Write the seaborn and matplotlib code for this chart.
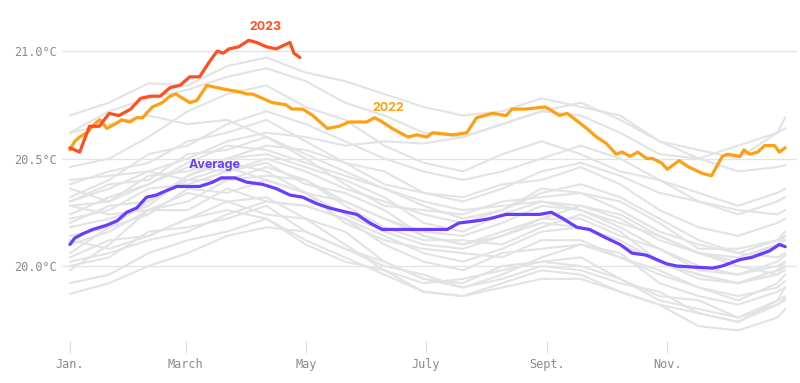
import pandas as pd
import seaborn as sns
import matplotlib.pyplot as plt

# Day-of-year positions shared by all the grey background years
gray_days = [0, 20, 40, 60, 80, 100, 120, 140, 160, 180, 200, 220, 240, 260, 280, 300, 320, 340, 360, 364]

# Grey background years (temperature, °C)
gray_lines = [
    [20.70, 20.76, 20.85, 20.84, 20.93, 20.97, 20.90, 20.86, 20.80, 20.74, 20.70, 20.72, 20.78, 20.74, 20.70, 20.58, 20.50, 20.44, 20.46, 20.47],
    [20.62, 20.72, 20.78, 20.82, 20.88, 20.92, 20.86, 20.76, 20.70, 20.62, 20.60, 20.66, 20.72, 20.76, 20.68, 20.58, 20.54, 20.50, 20.62, 20.69],
    [20.30, 20.36, 20.44, 20.50, 20.58, 20.62, 20.60, 20.56, 20.58, 20.57, 20.60, 20.66, 20.72, 20.70, 20.62, 20.52, 20.50, 20.56, 20.62, 20.64],
    [20.46, 20.50, 20.60, 20.72, 20.80, 20.84, 20.74, 20.68, 20.56, 20.48, 20.44, 20.52, 20.58, 20.52, 20.44, 20.40, 20.34, 20.28, 20.34, 20.36],
    [20.62, 20.66, 20.70, 20.66, 20.68, 20.60, 20.52, 20.44, 20.36, 20.30, 20.26, 20.28, 20.30, 20.26, 20.18, 20.08, 20.00, 19.96, 20.00, 20.02],
    [20.38, 20.44, 20.48, 20.58, 20.62, 20.68, 20.58, 20.48, 20.38, 20.34, 20.32, 20.38, 20.40, 20.46, 20.38, 20.26, 20.18, 20.14, 20.20, 20.22],
    [20.06, 20.18, 20.30, 20.42, 20.50, 20.56, 20.54, 20.48, 20.44, 20.34, 20.30, 20.36, 20.44, 20.48, 20.42, 20.34, 20.30, 20.24, 20.30, 20.32],
    [20.30, 20.38, 20.40, 20.52, 20.54, 20.60, 20.50, 20.38, 20.28, 20.26, 20.24, 20.30, 20.32, 20.34, 20.30, 20.20, 20.08, 20.08, 20.12, 20.14],
    [20.28, 20.30, 20.42, 20.44, 20.50, 20.52, 20.46, 20.40, 20.32, 20.20, 20.16, 20.24, 20.30, 20.28, 20.22, 20.12, 20.06, 20.04, 20.10, 20.12],
    [20.40, 20.42, 20.44, 20.40, 20.46, 20.40, 20.34, 20.24, 20.16, 20.10, 20.08, 20.14, 20.20, 20.18, 20.10, 20.02, 19.94, 19.92, 19.96, 20.00],
    [20.22, 20.26, 20.36, 20.38, 20.44, 20.48, 20.38, 20.34, 20.26, 20.14, 20.10, 20.16, 20.22, 20.22, 20.14, 20.08, 19.98, 19.96, 20.02, 20.05],
    [20.20, 20.28, 20.30, 20.40, 20.40, 20.42, 20.40, 20.28, 20.18, 20.12, 20.12, 20.10, 20.18, 20.24, 20.16, 20.02, 19.96, 19.92, 19.98, 20.00],
    [19.98, 20.10, 20.26, 20.30, 20.40, 20.46, 20.40, 20.30, 20.22, 20.14, 20.10, 20.14, 20.22, 20.28, 20.24, 20.14, 20.06, 20.02, 20.10, 20.14],
    [20.14, 20.18, 20.24, 20.36, 20.34, 20.40, 20.34, 20.20, 20.12, 20.08, 20.06, 20.04, 20.12, 20.12, 20.04, 19.98, 19.90, 19.86, 19.90, 19.93],
    [20.10, 20.16, 20.26, 20.26, 20.36, 20.30, 20.28, 20.22, 20.10, 20.02, 19.98, 20.06, 20.08, 20.10, 20.06, 19.92, 19.86, 19.82, 19.88, 19.90],
    [20.28, 20.24, 20.26, 20.34, 20.30, 20.32, 20.22, 20.10, 19.98, 19.92, 19.94, 19.98, 20.02, 20.00, 19.94, 19.84, 19.80, 19.76, 19.82, 19.85],
    [20.04, 20.12, 20.14, 20.22, 20.30, 20.24, 20.22, 20.16, 20.02, 19.94, 19.92, 20.00, 20.02, 20.04, 19.94, 19.86, 19.84, 19.76, 19.84, 19.86],
    [20.00, 20.04, 20.16, 20.18, 20.22, 20.28, 20.16, 20.08, 20.00, 19.96, 19.90, 19.94, 20.00, 19.98, 19.92, 19.88, 19.78, 19.74, 19.82, 19.84],
    [20.12, 20.08, 20.14, 20.22, 20.26, 20.22, 20.12, 20.04, 19.96, 19.88, 19.86, 19.92, 19.98, 19.96, 19.88, 19.82, 19.78, 19.74, 19.84, 19.90],
    [19.92, 19.96, 20.06, 20.12, 20.16, 20.22, 20.10, 20.02, 19.98, 19.88, 19.86, 19.90, 19.94, 19.94, 19.88, 19.82, 19.72, 19.70, 19.76, 19.80],
    [19.87, 19.92, 20.00, 20.06, 20.14, 20.18, 20.16, 20.08, 20.02, 19.94, 19.90, 19.96, 20.04, 20.10, 20.04, 19.96, 19.90, 19.84, 19.92, 19.96],
    [20.32, 20.40, 20.52, 20.56, 20.66, 20.72, 20.66, 20.58, 20.50, 20.44, 20.40, 20.44, 20.50, 20.56, 20.50, 20.40, 20.30, 20.26, 20.24, 20.26],
    [20.24, 20.32, 20.38, 20.48, 20.56, 20.54, 20.48, 20.42, 20.36, 20.28, 20.22, 20.26, 20.34, 20.38, 20.32, 20.22, 20.12, 20.06, 20.04, 20.06],
    [20.18, 20.22, 20.28, 20.42, 20.48, 20.44, 20.34, 20.30, 20.22, 20.16, 20.14, 20.20, 20.28, 20.26, 20.20, 20.14, 20.06, 20.00, 19.96, 19.98],
    [20.36, 20.30, 20.38, 20.46, 20.44, 20.50, 20.44, 20.36, 20.30, 20.24, 20.20, 20.26, 20.36, 20.34, 20.26, 20.16, 20.10, 20.06, 20.12, 20.16],
    [20.02, 20.06, 20.12, 20.16, 20.24, 20.30, 20.28, 20.22, 20.14, 20.06, 20.02, 20.08, 20.16, 20.18, 20.12, 20.02, 19.96, 19.92, 19.98, 20.02],
]

# 2023 (partial year)
days_2023 = [0, 5, 10, 15, 20, 25, 31, 36, 41, 46, 51, 56, 61, 66, 71, 75, 78, 81, 86, 91, 95, 100, 105, 112, 114, 117]
temps_2023 = [20.55, 20.53, 20.65, 20.65, 20.71, 20.70, 20.73, 20.78, 20.79, 20.79, 20.83, 20.84, 20.88,
              20.88, 20.95, 21.00, 20.99, 21.01, 21.02, 21.05, 21.04, 21.02, 21.01, 21.04, 20.99, 20.97]

# 2022
days_2022 = [0, 2.5, 5, 8.6, 13.7, 15.3, 18.8, 22.9, 26.4, 30.5, 34, 37, 42, 47, 51, 54, 57.5, 61, 64.6,
             69.7, 74.8, 80, 86.5, 90, 93, 98, 103, 110, 113, 118.5, 123.6, 131, 137, 142, 151, 155, 159,
             164, 172, 176.5, 181.6, 184.6, 195, 202, 207, 215, 222, 225, 232, 241.6, 244, 249, 253, 256,
             263, 268, 273, 278, 281, 285, 289, 293.5, 296.5, 301, 304, 310, 315, 322, 326.5, 332, 334.7,
             341, 343, 346, 350, 353.5, 358.6, 361, 364]
temps_2022 = [20.54, 20.58, 20.60, 20.62, 20.67, 20.68, 20.64, 20.66, 20.68, 20.67, 20.69, 20.69, 20.74,
              20.76, 20.79, 20.80, 20.78, 20.76, 20.77, 20.84, 20.83, 20.82, 20.81, 20.80, 20.80, 20.78,
              20.76, 20.75, 20.73, 20.73, 20.70, 20.64, 20.65, 20.67, 20.67, 20.69, 20.67, 20.64, 20.60,
              20.61, 20.60, 20.62, 20.61, 20.62, 20.69, 20.71, 20.70, 20.73, 20.73, 20.74, 20.73, 20.70,
              20.71, 20.69, 20.64, 20.60, 20.57, 20.52, 20.53, 20.51, 20.53, 20.50, 20.50, 20.48, 20.45,
              20.49, 20.46, 20.43, 20.42, 20.51, 20.52, 20.51, 20.54, 20.52, 20.53, 20.56, 20.56, 20.53, 20.55]

# Long-term average
days_avg = [0, 2.5, 6.6, 11.7, 18.8, 24, 29, 34, 39, 44, 49, 54.4, 66, 72.7, 77, 84, 90, 98, 105, 112,
            118.5, 125.6, 132, 141, 146, 152.6, 159, 192, 198, 207, 213.6, 222, 239, 245, 251, 258, 264.5,
            273, 280, 286, 293.5, 303.7, 308.7, 317, 327, 332, 341, 347, 356, 361, 364]
temps_avg = [20.10, 20.13, 20.15, 20.17, 20.19, 20.21, 20.25, 20.27, 20.32, 20.33, 20.35, 20.37, 20.37,
             20.39, 20.41, 20.41, 20.39, 20.38, 20.36, 20.33, 20.32, 20.29, 20.27, 20.25, 20.24, 20.20,
             20.17, 20.17, 20.20, 20.21, 20.22, 20.24, 20.24, 20.25, 20.22, 20.18, 20.17, 20.13, 20.10,
             20.06, 20.05, 20.01, 20.00, 19.995, 19.99, 20.00, 20.03, 20.04, 20.07, 20.10, 20.09]

month_ticks = [0, 59, 120, 181, 243, 304]
month_labels = ["Jan.", "March", "May", "July", "Sept.", "Nov."]
temp_ticks = [20.0, 20.5, 21.0]
temp_labels = ["20.0°C", "20.5°C", "21.0°C"]

GRAY = "#e2e3e5"
RED = "#ff4f1f"
ORANGE = "#ffa012"
PURPLE = "#6a3cff"
TICK_GRAY = "#8a8a8a"

sns.set_theme(style="white")
plt.rcParams["font.family"] = ["DejaVu Sans"]

# Long form table of grey years
gray_df = pd.DataFrame(
    [(i, d, t) for i, line in enumerate(gray_lines) for d, t in zip(gray_days, line)],
    columns=["year", "day", "temp"],
)

fig = plt.figure(figsize=(8, 3.83), dpi=100)
ax = fig.add_axes([62 / 800, 1 - 341 / 383, (797 - 62) / 800, (341 - 10) / 383])

# Background years
sns.lineplot(data=gray_df, x="day", y="temp", units="year", estimator=None,
             color=GRAY, linewidth=1.5, ax=ax, legend=False, sort=False)

# Highlighted series
sns.lineplot(x=days_avg, y=temps_avg, color=PURPLE, linewidth=2.3, ax=ax, sort=False)
sns.lineplot(x=days_2022, y=temps_2022, color=ORANGE, linewidth=2.3, ax=ax, sort=False)
sns.lineplot(x=days_2023, y=temps_2023, color=RED, linewidth=2.3, ax=ax, sort=False)

label_font = dict(family=["Inter", "DejaVu Sans"], fontsize=9, fontweight="bold", ha="center", va="center")
ax.text(99.7, 21.112, "2023", color=RED, **label_font)
ax.text(162, 20.735, "2022", color=ORANGE, **label_font)
ax.text(73.8, 20.47, "Average", color=PURPLE, **label_font)

ax.set_xlim(-4, 370)
ax.set_ylim(19.651, 21.191)
ax.set_xticks(month_ticks)
ax.set_xticklabels(month_labels)
ax.set_yticks(temp_ticks)
ax.set_yticklabels(temp_labels)
ax.set_xlabel("")
ax.set_ylabel("")

ax.grid(axis="y", color="#e3e3e3", linewidth=0.9)
ax.grid(axis="x", visible=False)
ax.set_axisbelow(True)
for spine in ax.spines.values():
    spine.set_visible(False)

ax.tick_params(axis="x", length=8.6, width=0.8, color="#dcdcdc", pad=3.5,
               labelsize=8.6, labelcolor=TICK_GRAY, direction="out", bottom=True)
ax.tick_params(axis="y", length=0, pad=3.5, labelsize=8.6, labelcolor=TICK_GRAY)
for lab in ax.get_xticklabels() + ax.get_yticklabels():
    lab.set_family("DejaVu Sans Mono")

fig.savefig("out.png", dpi=100)
